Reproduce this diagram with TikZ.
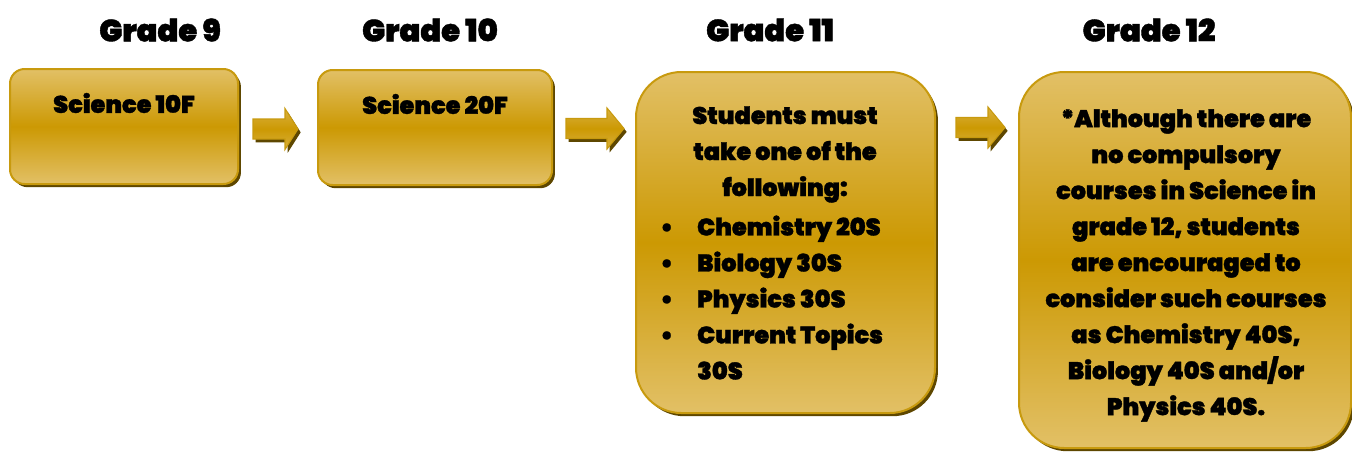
\documentclass[tikz,border=0pt]{standalone}
\usepackage{fontspec}
\setmainfont{Poppins}[UprightFont=* Black, FakeBold=1.3]
\usetikzlibrary{shadows}
\definecolor{goldlight}{HTML}{E2C066}
\definecolor{goldmid}{HTML}{CC9903}
\definecolor{goldedge}{HTML}{C89A0E}
\definecolor{shadowc}{HTML}{5E4700}
\tikzset{
  box/.style={rectangle, draw=goldedge, line width=1.5pt,
    top color=goldlight, bottom color=goldlight, middle color=goldmid,
    drop shadow={shadow xshift=2.2pt, shadow yshift=-2.4pt, fill=shadowc, opacity=1}},
  blockarrow/.style={draw=goldedge, line width=0.8pt, line join=miter,
    top color=goldlight!60!goldmid, bottom color=goldlight!60!goldmid, middle color=goldmid,
    drop shadow={shadow xshift=2pt, shadow yshift=-2.5pt, fill=shadowc, opacity=1}},
  title/.style={font=\fontsize{23}{30}\selectfont, text=black, inner sep=0pt},
  body/.style={font=\fontsize{18}{27}\selectfont, text=black, inner sep=0pt, align=center},
}
\newcommand\mkarrow[4]{% name, start x, head x, tip x ; center y via scope
  \path[blockarrow] (#2,-10) -- (#3,-10) -- (#3,-20.5) -- (#4,0) -- (#3,20.5) -- (#3,10) -- (#2,10) -- cycle;}
\begin{document}
\begin{tikzpicture}[x=0.75pt,y=-0.75pt]
\useasboundingbox (0,0) rectangle (1352,451);
\node[title] (g9) at (160,30) {Grade 9};
\node[title] (g10) at (430,30) {Grade 10};
\node[title] (g11) at (770,30) {Grade 11};
\node[title] (g12) at (1149,30) {Grade 12};

\node[box, rounded corners=11pt, minimum width=171pt, minimum height=86.25pt] (b1) at (124,126.5) {};
\node[box, rounded corners=11pt, minimum width=175.5pt, minimum height=86.25pt] (b2) at (435,127.5) {};
\node[box, rounded corners=34pt, minimum width=224.25pt, minimum height=255.75pt] (b3) at (785.5,242.5) {};
\node[box, rounded corners=34pt, minimum width=249pt, minimum height=282pt] (b4) at (1185,260) {};

\begin{scope}[shift={(0,129)}]
  \coordinate (a1) at (253,0);
  \mkarrow{a1}{253}{285}{298}
\end{scope}
\begin{scope}[shift={(0,128.5)}]
  \coordinate (a2) at (566,0);
  \mkarrow{a2}{566}{607}{624}
\end{scope}
\begin{scope}[shift={(0,127.5)}]
  \coordinate (a3) at (956,0);
  \mkarrow{a3}{956}{988}{1005}
\end{scope}

\node[body] (t1) at (124,103) {Science 10F};
\node[body] (t2) at (435,104) {Science 20F};
\node[body, anchor=north] (t3) at (785,106) {Students must\\take one of the\\following:};
\node[body, anchor=north west, align=left] (t3b) at (660,210) {%
\begin{tabular}{@{}l@{\hspace{18pt}}l@{}}
\textbullet & Chemistry 20S\\
\textbullet & Biology 30S\\
\textbullet & Physics 30S\\
\textbullet & Current Topics\\
 & 30S
\end{tabular}};
\node[body, anchor=north] (t4) at (1186,109) {*Although there are\\no compulsory\\courses in Science in\\grade 12, students\\are encouraged to\\consider such courses\\as Chemistry 40S,\\Biology 40S and/or\\Physics 40S.};
\end{tikzpicture}
\end{document}
